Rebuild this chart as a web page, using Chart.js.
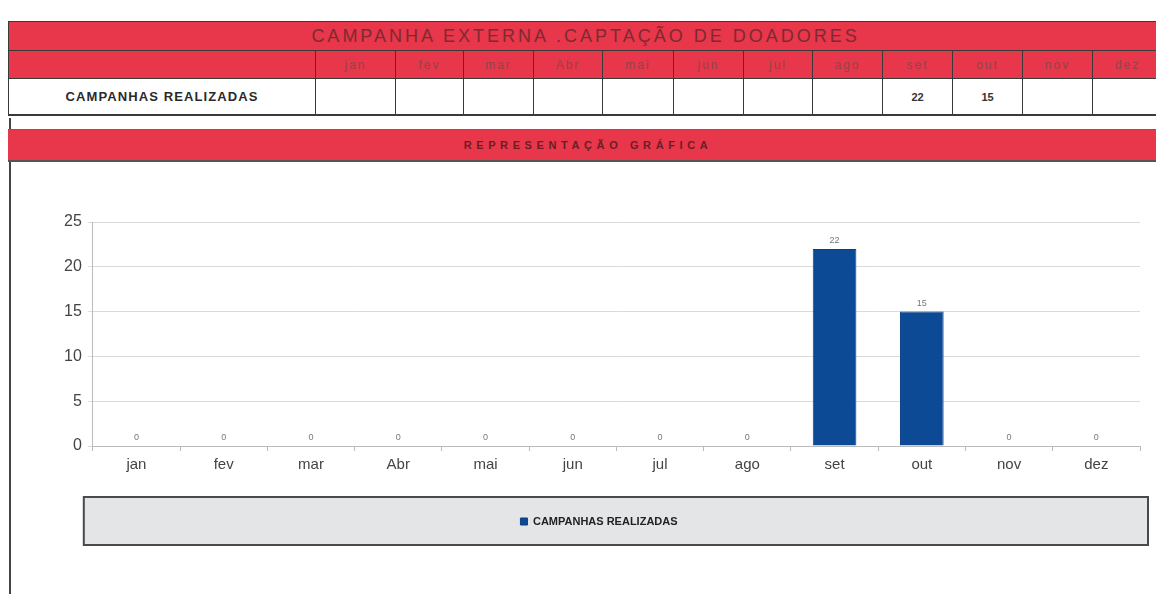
<!DOCTYPE html>
<html>
<head>
<meta charset="utf-8">
<title>Campanha externa</title>
<script src="https://cdn.jsdelivr.net/npm/chart.js@4.4.1/dist/chart.umd.min.js"></script>
<style>
body{margin:0;width:1156px;height:594px;overflow:hidden;background:#fff;position:relative;font-family:"Liberation Sans",Arial,sans-serif}
#tabela{position:absolute;left:8px;top:21px;border-collapse:collapse;table-layout:fixed;width:1154px}
#tabela td{border:1px solid #3a3a3a;padding:0;text-align:center;white-space:nowrap;overflow:hidden}
#tabela .verm{background:#e8364a}
#titulo{height:28px;font-size:18px;letter-spacing:3px;color:#7b2b32}
#linha_meses td{height:27px;font-size:12px;letter-spacing:2px;color:#93434b}
#linha_dados td{height:35px;font-size:11px;font-weight:bold;color:#333;border-bottom:2px solid #3a3a3a}
#linha_dados td.rotulo{font-size:13px;letter-spacing:1.1px;color:#2a2a2a}
#faixa{position:absolute;left:8px;top:129px;width:1160px;height:30px;background:#e8364a;border-top:1px solid #666;border-bottom:2px solid #555;text-align:center;line-height:30px;font-size:11px;font-weight:bold;letter-spacing:4.6px;color:#6b1e26}
#moldura{position:absolute;left:9px;top:118px;height:480px;border-left:2px solid #444}
#caixa{position:absolute;left:0;top:165px;width:1156px;height:429px}
</style>
</head>
<body>
<table id="tabela">
  <colgroup id="colunas"></colgroup>
  <tr><td id="titulo" class="verm" colspan="13">CAMPANHA EXTERNA .CAPTAÇÃO DE DOADORES</td></tr>
  <tr id="linha_meses"></tr>
  <tr id="linha_dados"></tr>
</table>
<div id="moldura"></div>
<div id="faixa">REPRESENTAÇÃO GRÁFICA</div>
<div id="caixa"><canvas id="grafico"></canvas></div>
<script>
const meses = ['jan', 'fev', 'mar', 'Abr', 'mai', 'jun', 'jul', 'ago', 'set', 'out', 'nov', 'dez'];
const campanhas = [0, 0, 0, 0, 0, 0, 0, 0, 22, 15, 0, 0];
const serieNome = 'CAMPANHAS REALIZADAS';
const escalaMax = 25;
const escalaPasso = 5;

// tabela de cima
function montaTabela() {
    let larguras = [307, 80, 68, 70, 69, 71, 70, 69, 70, 70, 70, 70, 70];
    let cols = document.getElementById('colunas');
    larguras.forEach(function(w) {
        let c = document.createElement('col');
        c.style.width = w + 'px';
        cols.appendChild(c);
    });
    let lm = document.getElementById('linha_meses');
    let ld = document.getElementById('linha_dados');
    let td = document.createElement('td');
    td.className = 'verm';
    lm.appendChild(td);
    td = document.createElement('td');
    td.className = 'rotulo';
    td.textContent = serieNome;
    ld.appendChild(td);
    meses.forEach(function(m, i) {
        let a = document.createElement('td');
        a.className = 'verm';
        a.textContent = m;
        lm.appendChild(a);
        let b = document.createElement('td');
        b.textContent = campanhas[i] > 0 ? campanhas[i] : '';
        ld.appendChild(b);
    });
}

const rotulos = {
    id: 'rotulos',
    afterDatasetsDraw(chart) {
        let ctx = chart.ctx;
        let meta = chart.getDatasetMeta(0);
        ctx.save();
        ctx.font = '9px "Liberation Sans"';
        ctx.fillStyle = '#777';
        ctx.textAlign = 'center';
        ctx.textBaseline = 'bottom';
        meta.data.forEach(function(bar, i) {
            ctx.fillText(campanhas[i], bar.x, bar.y - 4);
        });
        ctx.restore();
    }
};

// caixa cinza atras da legenda
const caixaLegenda = {
    id: 'caixaLegenda',
    beforeDraw(chart) {
        let l = chart.legend, a = chart.chartArea, ctx = chart.ctx;
        let h = l.height + 8;
        ctx.save();
        ctx.fillStyle = '#e4e5e7';
        ctx.fillRect(a.left - 9, l.top, a.right - a.left + 17, h);
        ctx.strokeStyle = '#4a4a4a';
        ctx.lineWidth = 2;
        ctx.strokeRect(a.left - 9, l.top, a.right - a.left + 17, h);
        ctx.restore();
    }
};

function grafico() {
    let ctx = document.getElementById('grafico');
    let chart = new Chart(ctx, {
        type: 'bar',
        data: {
            labels: meses,
            datasets: [{
                label: serieNome,
                data: campanhas,
                backgroundColor: '#0d4a96',
                borderColor: '#0a3f82',
                borderWidth: 1,
                barPercentage: 0.5,
                categoryPercentage: 1
            }]
        },
        options: {
            responsive: true,
            maintainAspectRatio: false,
            animation: false,
            layout: {padding: {top: 57, left: 58, right: 16, bottom: 57}},
            plugins: {
                tooltip: {enabled: false},
                legend: {
                    position: 'bottom',
                    labels: {
                        boxWidth: 7,
                        boxHeight: 7,
                        padding: 19,
                        color: '#222',
                        font: {family: 'Liberation Sans', size: 11, weight: 'bold'}
                    }
                }
            },
            scales: {
                x: {
                    grid: {display: true, drawOnChartArea: false, tickLength: 5, color: '#bbb', offset: true},
                    border: {color: '#bbb'},
                    ticks: {color: '#444', padding: 5, font: {family: 'Liberation Sans', size: 15}},
                    afterFit: function(s) { s.height += 18; }
                },
                y: {
                    min: 0,
                    max: escalaMax,
                    grid: {color: '#dadada', tickLength: 5},
                    border: {color: '#bbb'},
                    ticks: {stepSize: escalaPasso, color: '#444', padding: 6, font: {family: 'Liberation Sans', size: 16}}
                }
            }
        },
        plugins: [rotulos, caixaLegenda]
    });
}

montaTabela();
grafico();
</script>
</body>
</html>
